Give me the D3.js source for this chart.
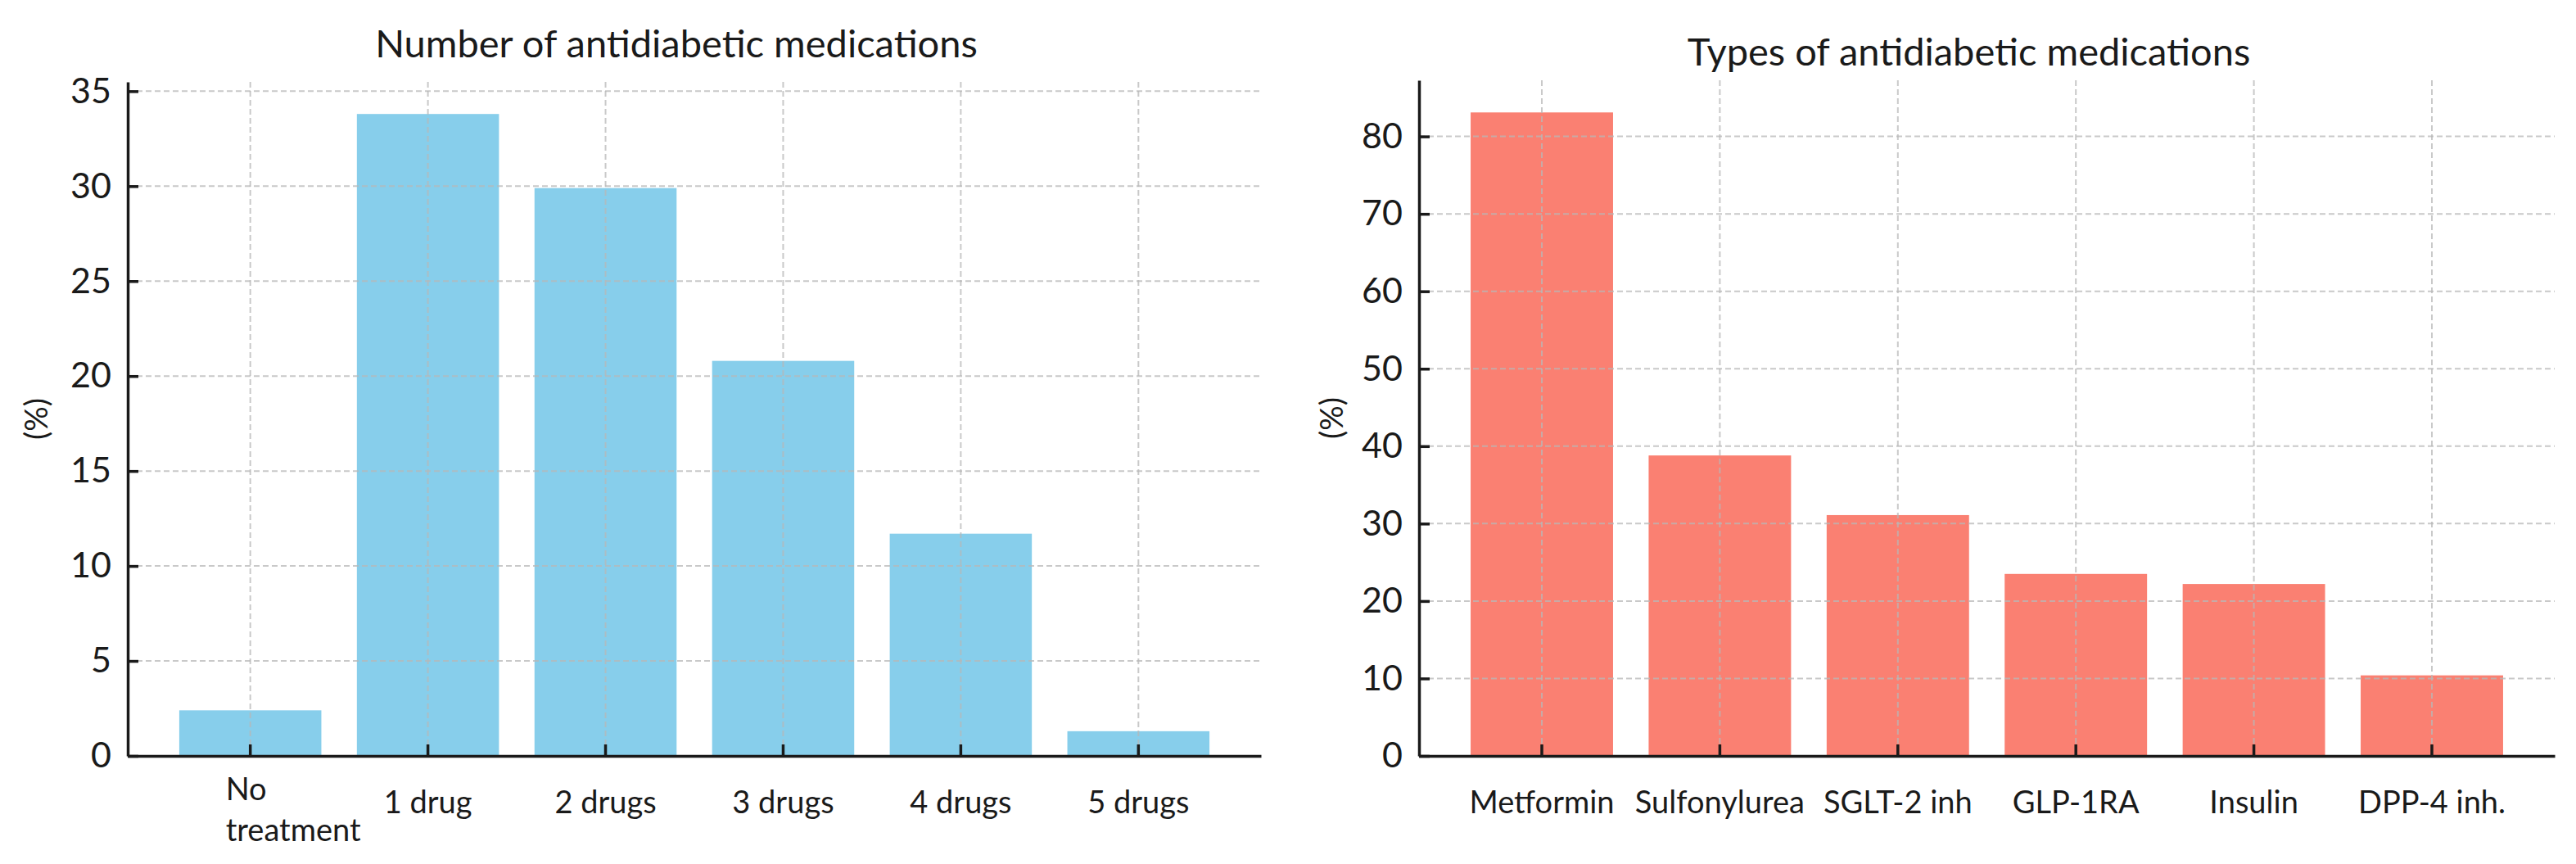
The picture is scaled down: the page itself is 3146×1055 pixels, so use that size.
<!DOCTYPE html>
<html lang="en">
<head>
<meta charset="UTF-8">
<title>Antidiabetic medications</title>
<script src="https://d3js.org/d3.v7.min.js"></script>
<style>
    body { margin: 0; background: #fff; }
    text { font-family: Lato, "Open Sans", sans-serif; fill: #1a1a1a; }
    .grid line { stroke: #b8b8b8; stroke-width: 2px; stroke-dasharray: 7 4; opacity: 0.75; }
    .axis path, .axis line { stroke: #1a1a1a; stroke-width: 3.5px; }
</style>
</head>
<body>
<svg width="3146" height="1055"></svg>
<script>
// data
var countLabels = ["No treatment", "1 drug", "2 drugs", "3 drugs", "4 drugs", "5 drugs"];
var countValues = [2.4, 33.8, 29.9, 20.8, 11.7, 1.3];
var countTicks = [0, 5, 10, 15, 20, 25, 30, 35];

var typeLabels = ["Metformin", "Sulfonylurea", "SGLT-2 inh", "GLP-1RA", "Insulin", "DPP-4 inh."];
var typeValues = [83.1, 38.8, 31.1, 23.5, 22.2, 10.4];
var typeTicks = [0, 10, 20, 30, 40, 50, 60, 70, 80];

var svg = d3.select("svg");
svg.append("rect").attr("width", 3146).attr("height", 1055).attr("fill", "#fff");

function drawPanel(opt) {
    var g = svg.append("g");
    var x = d3.scaleBand().domain(opt.labels).range([opt.left, opt.right])
        .paddingInner(0.2).paddingOuter(0.29);
    var ymax = d3.max(opt.values) * 1.05;
    var y = d3.scaleLinear().domain([0, ymax]).range([opt.bottom, opt.top]);

    // bars
    g.append("g").selectAll("rect")
        .data(opt.values)
        .enter().append("rect")
        .attr("x", function (d, i) { return x(opt.labels[i]); })
        .attr("width", x.bandwidth())
        .attr("y", function (d) { return y(d); })
        .attr("height", function (d) { return y(0) - y(d); })
        .attr("fill", opt.color);

    // dashed grid, both ways, over the bars
    var grid = g.append("g").attr("class", "grid");
    grid.selectAll("line.h").data(opt.ticks.filter(function (t) { return t > 0; }))
        .enter().append("line").attr("class", "h")
        .attr("x1", opt.left).attr("x2", opt.right)
        .attr("y1", function (d) { return y(d); }).attr("y2", function (d) { return y(d); });
    grid.selectAll("line.v").data(opt.labels)
        .enter().append("line").attr("class", "v")
        .attr("x1", function (d) { return x(d) + x.bandwidth() / 2; })
        .attr("x2", function (d) { return x(d) + x.bandwidth() / 2; })
        .attr("y1", opt.top).attr("y2", opt.bottom);

    // y axis, inward ticks
    var ya = g.append("g").attr("class", "axis")
        .attr("transform", "translate(" + opt.left + ",0)")
        .call(d3.axisLeft(y).tickValues(opt.ticks).tickSizeInner(-13).tickSizeOuter(0).tickPadding(20));
    ya.selectAll("text").style("font-size", "43px").attr("fill", "#1a1a1a");

    // x axis, inward ticks
    var xa = g.append("g").attr("class", "axis")
        .attr("transform", "translate(0," + opt.bottom + ")")
        .call(d3.axisBottom(x).tickSizeInner(-14).tickSizeOuter(0));
    xa.selectAll("text").remove();
    xa.selectAll(".tick").append("text")
        .style("font-size", "38px")
        .attr("fill", "#111")
        .each(function (d) {
            var t = d3.select(this);
            var parts = d.split(" ");
            if (d === "No treatment") {
                t.attr("text-anchor", "start").attr("x", -30);
                t.append("tspan").attr("x", -30).attr("y", 54).text(parts[0]);
                t.append("tspan").attr("x", -30).attr("y", 104).text(parts[1]);
            } else {
                t.attr("text-anchor", "middle").attr("y", 70).text(d);
            }
        });

    // y label
    g.append("text")
        .attr("transform", "translate(" + opt.ylabX + "," + ((opt.top + opt.bottom) / 2) + ") rotate(-90)")
        .attr("text-anchor", "middle")
        .style("font-size", "38px")
        .text("(%)");

    // title
    g.append("text")
        .attr("x", (opt.left + opt.right) / 2 - 22)
        .attr("y", opt.titleY)
        .attr("text-anchor", "middle")
        .style("font-size", "47px")
        .attr("fill", "#111")
        .text(opt.title);
}

drawPanel({
    labels: countLabels, values: countValues, ticks: countTicks,
    color: "#87CEEB", left: 156, right: 1540, top: 100, bottom: 923,
    ylabX: 58, titleY: 70, title: "Number of antidiabetic medications"
});

drawPanel({
    labels: typeLabels, values: typeValues, ticks: typeTicks,
    color: "#FA8072", left: 1733, right: 3120, top: 98, bottom: 923,
    ylabX: 1640, titleY: 80, title: "Types of antidiabetic medications"
});
</script>
</body>
</html>
